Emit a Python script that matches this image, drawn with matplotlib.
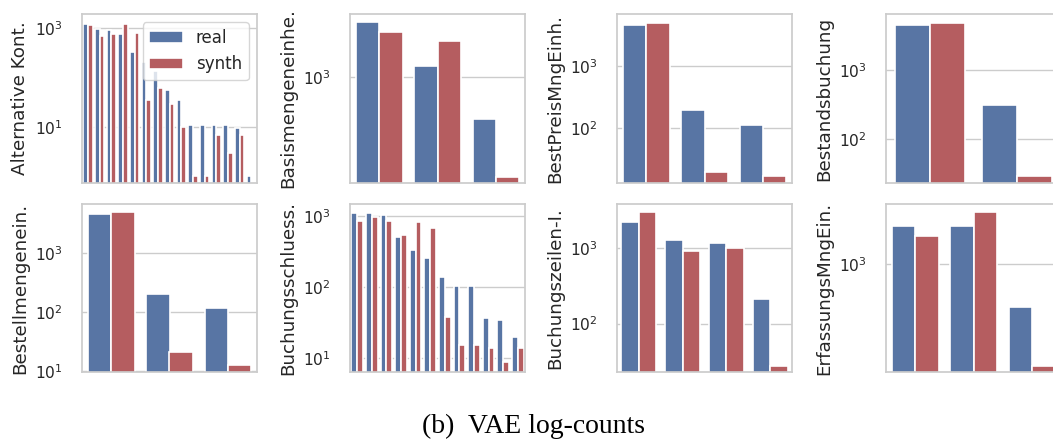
import numpy as np
import matplotlib
matplotlib.use("Agg")
import matplotlib.pyplot as plt
from matplotlib.ticker import NullLocator
from matplotlib.patches import Patch

# ---------------- data ----------------
labels = ["Alternative Kont.", "Basismengeneinhe.", "BestPreisMngEinh.", "Bestandsbuchung",
          "Bestellmengenein.", "Buchungsschluess.", "Buchungszeilen-I.", "ErfassungsMngEin."]

alt_real = [1225, 955, 910, 755, 325, 210, 136, 56, 35, 11, 11, 11, 11, 9.5, 1]
alt_synth = [1150, 677, 767, 1206, 791, 35, 61, 29, 10, 1, 1, 7, 3, 7, 0]

basis_real = [3200, 1277, 416]
basis_synth = [2600, 2120, 122]

bestpreis_real = [4600, 199, 115]
bestpreis_synth = [4830, 20, 17]

bestand_real = [4490, 311]
bestand_synth = [4745, 29]

bestell_real = [4520, 199, 114]
bestell_synth = [4830, 21, 12.5]

bschl_real = [1124, 1124, 1055, 513, 339, 255, 140, 105, 105, 36.5, 34.6, 20]
bschl_synth = [871, 969, 861, 546, 827, 676, 38, 15.3, 15.3, 13.6, 8.7, 13.6]

bzeil_real = [2207, 1263, 1141, 210]
bzeil_synth = [2929, 894, 980, 28]

erf_real = [2218, 2218, 421]
erf_synth = [1795, 2925, 125]

series_real = [alt_real, basis_real, bestpreis_real, bestand_real,
               bestell_real, bschl_real, bzeil_real, erf_real]
series_synth = [alt_synth, basis_synth, bestpreis_synth, bestand_synth,
                bestell_synth, bschl_synth, bzeil_synth, erf_synth]

ylims = [(0.73, 1928), (107, 3787), (13.3, 6820), (23, 6490),
         (9.6, 6680), (6.3, 1497), (23, 3777), (109.5, 3470)]
yticks = [[1e1, 1e3], [1e3], [1e2, 1e3], [1e2, 1e3],
          [1e1, 1e2, 1e3], [1e1, 1e2, 1e3], [1e2, 1e3], [1e3]]

caption = "(b)  VAE log-counts"
series_names = ["real", "synth"]

# ---------------- style ----------------
BLUE = "#5875a4"
RED = "#b55d60"
GRID = "#cccccc"
TEXT = "#262626"

plt.rcParams["font.family"] = ["DejaVu Sans"]
plt.rcParams["text.color"] = TEXT
plt.rcParams["axes.labelcolor"] = TEXT
plt.rcParams["ytick.color"] = TEXT

W, H = 1053, 445
fig = plt.figure(figsize=(W / 100, H / 100), dpi=100)

col_left = [82, 350, 617, 886]
ax_w = 175
rows = [(14, 183), (204, 372)]

axes = []
for i in range(8):
    r, c = divmod(i, 4)
    top, bot = rows[r]
    ax = fig.add_axes([col_left[c] / W, (H - bot) / H, ax_w / W, (bot - top) / H])
    axes.append(ax)

for i, ax in enumerate(axes):
    real = np.asarray(series_real[i], dtype=float)
    synth = np.asarray(series_synth[i], dtype=float)
    x = np.arange(len(real))
    ax.set_yscale("log", nonpositive="clip")
    ax.bar(x - 0.2, real, width=0.4, color=BLUE, edgecolor="white", linewidth=1.2, zorder=2)
    ax.bar(x + 0.2, synth, width=0.4, color=RED, edgecolor="white", linewidth=1.2, zorder=2)
    ax.set_xlim(-0.5, len(real) - 0.5)
    ax.set_ylim(*ylims[i])
    ax.set_yticks(yticks[i])
    ax.yaxis.set_minor_locator(NullLocator())
    ax.set_xticks([])
    ax.tick_params(axis="y", length=0, pad=14, labelsize=11.2)
    ax.grid(axis="y", color=GRID, linewidth=1.0, zorder=0)
    ax.set_axisbelow(True)
    for s in ax.spines.values():
        s.set_color(GRID)
        s.set_linewidth(1.25)
    ax.set_ylabel(labels[i], fontsize=13.2, labelpad=4)

handles = [Patch(facecolor=BLUE, edgecolor="white", linewidth=1.2, label=series_names[0]),
           Patch(facecolor=RED, edgecolor="white", linewidth=1.2, label=series_names[1])]
leg = axes[0].legend(handles=handles, loc="upper right", fontsize=12, framealpha=0.8,
                     edgecolor=GRID, fancybox=True)
leg.set_zorder(5)

fig.text(534 / W, (H - 426) / H, caption, ha="center", va="center",
         fontsize=20, family=["Liberation Serif", "DejaVu Serif"], color="black")

fig.savefig("out.png", dpi=100)
